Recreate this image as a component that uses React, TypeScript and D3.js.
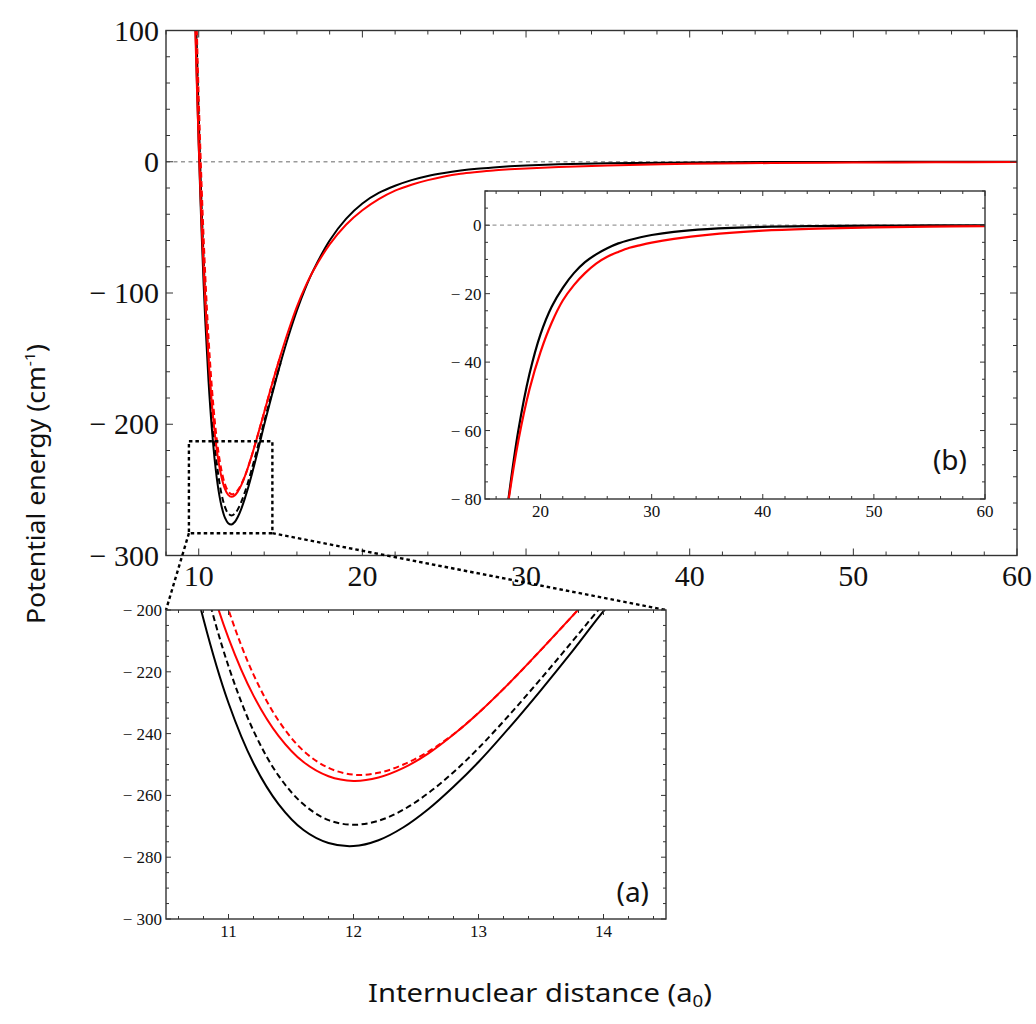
import React from 'react';
import * as d3 from 'd3';

// ---------- data ----------
const distance = [9.7, 9.8, 9.9, 10.0, 10.1, 10.2, 10.4, 10.6, 10.8, 11.0, 11.2, 11.4, 11.6, 11.8, 12.0, 12.2, 12.4, 12.6, 12.8, 13.0, 13.25, 13.5, 13.75, 14.0, 14.5, 15.0, 15.5, 16, 16.5, 17, 18, 19, 20, 21, 22, 23, 24, 25, 26, 27, 28, 29, 30, 32, 35, 40, 45, 50, 55, 60];
const blackSolid = [157.6, 104.0, 55.6, 12.3, -26.9, -61.9, -121.1, -167.4, -203.0, -230.1, -249.6, -262.8, -271.2, -275.4, -276.4, -274.5, -270.3, -264.4, -257.2, -249.2, -237.9, -225.9, -213.4, -200.4, -176.4, -153.3, -132.2, -113.3, -96.9, -82.8, -60.0, -43.5, -31.8, -23.8, -18.3, -14.0, -10.8, -8.5, -6.7, -5.3, -4.3, -3.5, -2.85, -1.95, -1.15, -0.5, -0.25, -0.13, -0.07, -0.04];
const redSolid = [143.4, 95.4, 52.1, 12.9, -22.4, -54.2, -108.0, -150.6, -183.8, -209.1, -227.7, -240.7, -249.2, -253.8, -255.3, -254.2, -251.1, -246.4, -240.3, -233.3, -223.5, -212.9, -202.0, -190.8, -168.6, -147.5, -128.0, -110.3, -95.5, -83.0, -63.0, -48.0, -37.0, -28.5, -22.0, -17.5, -14.0, -11.2, -9.2, -7.8, -6.6, -5.8, -5.1, -4.0, -2.8, -1.6, -1.0, -0.6, -0.4, -0.25];
const distanceDashed = [9.7, 9.8, 9.9, 10.0, 10.1, 10.2, 10.4, 10.6, 10.8, 11.0, 11.2, 11.4, 11.6, 11.8, 12.0, 12.2, 12.4, 12.6, 12.8, 13.0, 13.25, 13.5, 13.75, 14.0, 14.5, 15.0];
const blackDashed = [185.4, 130.1, 80.0, 34.8, -5.7, -42.0, -103.6, -152.1, -189.7, -218.2, -239.1, -253.6, -262.9, -268.0, -269.5, -268.2, -264.6, -259.2, -252.5, -244.7, -233.8, -222.2, -210.2, -198.0, -175.0, -153.3];
const redDashed = [195.0, 141.2, 92.5, 48.6, 9.1, -26.4, -86.7, -134.4, -171.6, -199.9, -220.9, -235.8, -245.6, -251.1, -253.3, -252.7, -250.0, -245.8, -240.2, -233.3, -223.5, -212.9, -202.0, -190.8, -168.6, -147.5];

const mainXDomain = [8, 60];
const mainYDomain = [-300, 100];
const mainXTicks = [10, 20, 30, 40, 50, 60];
const mainYTicks = [100, 0, -100, -200, -300];
const insetBXDomain = [15, 60];
const insetBYDomain = [-80, 10];
const insetBXTicks = [20, 30, 40, 50, 60];
const insetBYTicks = [0, -20, -40, -60, -80];
const insetAXDomain = [10.5, 14.5];
const insetAYDomain = [-300, -200];
const insetAXTicks = [11, 12, 13, 14];
const insetAYTicks = [-200, -220, -240, -260, -280, -300];
const zoomBoxX = [9.4, 14.5];
const zoomBoxY = [-283, -213];

const xTitle = 'Internuclear distance (a';
const yTitle = 'Potential energy (cm';

// ---------- helpers ----------
const fmt = (v: number) => (v < 0 ? `\u2212 ${Math.abs(v)}` : `${v}`);

function minorTicks(domain: number[], step: number, majors: number[]) {
  const out: number[] = [];
  const start = Math.ceil(domain[0] / step - 1e-9);
  const end = Math.floor(domain[1] / step + 1e-9);
  for (let k = start; k <= end; k++) {
    const v = Math.round(k * step * 1000) / 1000;
    if (!majors.some((m) => Math.abs(m - v) < 1e-6)) out.push(v);
  }
  return out;
}

type Series = { xs: number[]; ys: number[]; color: string; dash?: string };

const serif = '"Liberation Serif", "Times New Roman", serif';
const sans = '"Noto Sans", "Open Sans", sans-serif';

function Panel(props: any) {
  const { id, x, y, xTicks, yTicks, xMinorStep, yMinorStep, fontSize, majorLen, minorLen,
    xLabelBaseline, yLabelRight, yLabelShift, series, lineWidth, zeroLine, tag, tagX, tagY, tagSize, frameWidth } = props;
  const [left, right] = x.range();
  const [bottom, top] = y.range();
  const xMinor = minorTicks(x.domain(), xMinorStep, xTicks);
  const yMinor = minorTicks(y.domain(), yMinorStep, yTicks);
  const line = d3.line<[number, number]>().x((d) => x(d[0])).y((d) => y(d[1])).curve(d3.curveCatmullRom.alpha(0.5));
  const tickColor = '#333';
  return (
    <g>
      <defs>
        <clipPath id={id}>
          <rect x={left} y={top} width={right - left} height={bottom - top} />
        </clipPath>
      </defs>
      <rect x={left} y={top} width={right - left} height={bottom - top} fill="#fff" />
      {zeroLine && (
        <line x1={left} x2={right} y1={y(0)} y2={y(0)} stroke="#9a9a9a" strokeWidth={1.3} strokeDasharray="4,3.5" />
      )}
      <g clipPath={`url(#${id})`}>
        {series.map((s: Series, i: number) => (
          <path key={i} d={line(s.xs.map((v, j) => [v, s.ys[j]] as [number, number])) || ''} fill="none"
            stroke={s.color} strokeWidth={lineWidth} strokeDasharray={s.dash} />
        ))}
      </g>
      <g stroke={tickColor} strokeWidth={1}>
        {xTicks.map((t: number) => (
          <g key={'xM' + t}>
            <line x1={x(t)} x2={x(t)} y1={bottom} y2={bottom - majorLen} />
            <line x1={x(t)} x2={x(t)} y1={top} y2={top + majorLen} />
          </g>
        ))}
        {xMinor.map((t: number) => (
          <g key={'xm' + t}>
            <line x1={x(t)} x2={x(t)} y1={bottom} y2={bottom - minorLen} />
            <line x1={x(t)} x2={x(t)} y1={top} y2={top + minorLen} />
          </g>
        ))}
        {yTicks.map((t: number) => (
          <g key={'yM' + t}>
            <line x1={left} x2={left + majorLen} y1={y(t)} y2={y(t)} />
            <line x1={right} x2={right - majorLen} y1={y(t)} y2={y(t)} />
          </g>
        ))}
        {yMinor.map((t: number) => (
          <g key={'ym' + t}>
            <line x1={left} x2={left + minorLen} y1={y(t)} y2={y(t)} />
            <line x1={right} x2={right - minorLen} y1={y(t)} y2={y(t)} />
          </g>
        ))}
      </g>
      <rect x={left} y={top} width={right - left} height={bottom - top} fill="none" stroke={tickColor} strokeWidth={frameWidth} />
      <g fontFamily={serif} fontSize={fontSize} fill="#111">
        {xTicks.map((t: number) => (
          <text key={'xl' + t} x={x(t)} y={xLabelBaseline} textAnchor="middle">{fmt(t)}</text>
        ))}
        {yTicks.map((t: number) => (
          <text key={'yl' + t} x={yLabelRight} y={y(t) + yLabelShift} textAnchor="end">{fmt(t)}</text>
        ))}
      </g>
      {tag && (
        <text x={tagX} y={tagY} textAnchor="end" fontFamily={sans} fontSize={tagSize} fill="#111">{tag}</text>
      )}
    </g>
  );
}

export default function App() {
  const W = 1036;
  const H = 1024;
  const xMain = d3.scaleLinear().domain(mainXDomain).range([166, 1017]);
  const yMain = d3.scaleLinear().domain(mainYDomain).range([555.5, 30.5]);
  const xB = d3.scaleLinear().domain(insetBXDomain).range([485, 985]);
  const yB = d3.scaleLinear().domain(insetBYDomain).range([499, 191]);
  const xA = d3.scaleLinear().domain(insetAXDomain).range([166, 666]);
  const yA = d3.scaleLinear().domain(insetAYDomain).range([919, 610]);

  const allSeries: Series[] = [
    { xs: distance, ys: blackSolid, color: '#000' },
    { xs: distanceDashed, ys: blackDashed, color: '#000', dash: '6,3.5' },
    { xs: distance, ys: redSolid, color: '#f00' },
    { xs: distanceDashed, ys: redDashed, color: '#f00', dash: '6,3.5' },
  ];
  const solidOnly: Series[] = [allSeries[0], allSeries[2]];

  const boxL = xMain(zoomBoxX[0]);
  const boxR = xMain(zoomBoxX[1]);
  const boxT = yMain(zoomBoxY[1]);
  const boxB = yMain(zoomBoxY[0]);

  return (
    <svg width={W} height={H} style={{ position: 'absolute', left: 0, top: 0, background: '#fff' }}>
      <rect x={0} y={0} width={W} height={H} fill="#fff" />
      <Panel id="clipMain" x={xMain} y={yMain} xTicks={mainXTicks} yTicks={mainYTicks} xMinorStep={2} yMinorStep={20}
        fontSize={30} majorLen={7} minorLen={4} xLabelBaseline={586} yLabelRight={159} yLabelShift={10}
        series={allSeries} lineWidth={2} zeroLine frameWidth={1.4} />
      <rect x={boxL} y={boxT} width={boxR - boxL} height={boxB - boxT} fill="none" stroke="#000" strokeWidth={2.4} strokeDasharray="3.5,3" />
      <line x1={boxL} y1={boxB} x2={xA(insetAXDomain[0])} y2={yA(insetAYDomain[1])} stroke="#000" strokeWidth={2.4} strokeDasharray="3.5,3" />
      <line x1={boxR} y1={boxB} x2={xA(insetAXDomain[1])} y2={yA(insetAYDomain[1])} stroke="#000" strokeWidth={2.4} strokeDasharray="3.5,3" />
      <Panel id="clipB" x={xB} y={yB} xTicks={insetBXTicks} yTicks={insetBYTicks} xMinorStep={2} yMinorStep={5}
        fontSize={17} majorLen={5} minorLen={3} xLabelBaseline={517} yLabelRight={481.5} yLabelShift={6}
        series={solidOnly} lineWidth={2.2} zeroLine frameWidth={1.4} tag="(b)" tagX={967} tagY={470} tagSize={28} />
      <Panel id="clipA" x={xA} y={yA} xTicks={insetAXTicks} yTicks={insetAYTicks} xMinorStep={0.2} yMinorStep={5}
        fontSize={17} majorLen={5} minorLen={3} xLabelBaseline={937} yLabelRight={162} yLabelShift={6}
        series={allSeries} lineWidth={2} zeroLine={false} frameWidth={1.4} tag="(a)" tagX={649} tagY={902} tagSize={28} />
      <text x={540} y={1002} textAnchor="middle" fontFamily={sans} fontSize={25} fill="#111"
        textLength={344} lengthAdjust="spacingAndGlyphs">
        {xTitle}<tspan fontSize={16} dy={5}>0</tspan><tspan dy={-5}>)</tspan>
      </text>
      <text transform="translate(45,484) rotate(-90)" textAnchor="middle" fontFamily={sans} fontSize={25} fill="#111"
        textLength={280} lengthAdjust="spacingAndGlyphs">
        {yTitle}<tspan fontSize={15} dy={-10}>-1</tspan><tspan dy={10}>)</tspan>
      </text>
    </svg>
  );
}
